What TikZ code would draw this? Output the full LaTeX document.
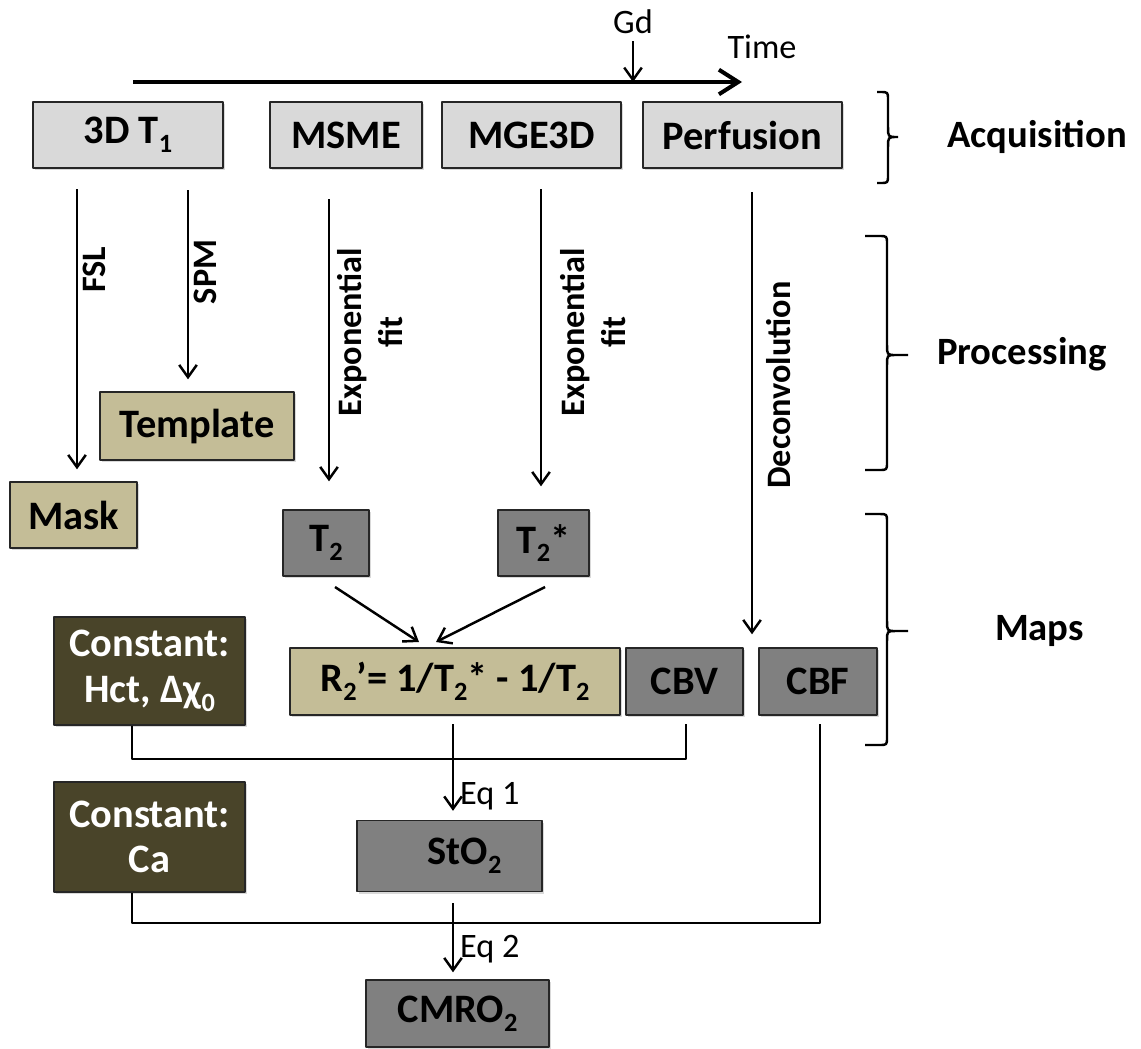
\documentclass[tikz,border=0pt]{standalone}
\usepackage{fontspec}
\setmainfont{Carlito}
\usetikzlibrary{arrows.meta,shadows}
\definecolor{acqgray}{HTML}{D9D9D9}
\definecolor{boxtan}{HTML}{C4BD97}
\definecolor{mapgray}{HTML}{808080}
\definecolor{darkolive}{HTML}{494429}
\newcommand{\lowsub}[1]{\raisebox{-0.45ex}{\fontsize{15}{15}\selectfont #1}}
% brace: hook x, spine x, tip x, top y, tip y, bottom y
\newcommand{\sidebrace}[6]{%
	\draw (#1,#4)--(#2-8,#4) .. controls (#2,#4) .. (#2,#4+8)--(#2,#5-10) .. controls (#2,#5) .. (#2+9,#5)--(#3,#5)
		(#2+9,#5) .. controls (#2,#5) .. (#2,#5+10)--(#2,#6-8) .. controls (#2,#6) .. (#2-8,#6)--(#1,#6);}
\begin{document}
\begin{tikzpicture}[x=0.02cm, y=-0.02cm, >={Straight Barb[length=7pt,width=10pt]},
	line width=1.4pt, line join=round,
	box/.style={draw=black!85, line width=0.8pt, inner sep=0pt, font=\fontsize{23}{26}\selectfont\bfseries,
		drop shadow={shadow xshift=1.2pt, shadow yshift=-1.2pt, opacity=0.3}},
	acqbox/.style={box, fill=acqgray, minimum height=1.32cm},
	tanbox/.style={box, fill=boxtan},
	mapbox/.style={box, fill=mapgray},
	constbox/.style={box, fill=darkolive, text=white, align=center},
	lbl/.style={font=\fontsize{19.5}{23}\selectfont\bfseries, rotate=90, align=center},
	small/.style={font=\fontsize{19.5}{23}\selectfont},
	side/.style={font=\fontsize{22}{26}\selectfont\bfseries, anchor=west}]
	\useasboundingbox (0,0) rectangle (1141,1048);
	
	% --- Time axis ---
	\coordinate (tstart) at (133,82);
	\coordinate (tend) at (742,82);
	\draw[line width=2.3pt, -{Straight Barb[length=11pt,width=14pt]}] (tstart)--(tend);
	\node[small] (gd) at (633,22) {Gd};
	\draw[->] (gd.south)--(gd.south |- tstart);
	\node[small] (time) at (762,47) {Time};
	
	% --- Acquisition ---
	\node[acqbox, minimum width=3.8cm] (t1) at (128,135) {3D T\lowsub{1}};
	\node[acqbox, minimum width=3.04cm] (msme) at (346,135) {MSME};
	\node[acqbox, minimum width=3.58cm] (mge) at (531.5,135) {MGE3D};
	\node[acqbox, minimum width=3.98cm] (perf) at (742.5,135) {Perfusion};
	
	% --- Processing ---
	\node[tanbox, minimum width=3.88cm, minimum height=1.36cm] (template) at (197,426) {Template};
	\node[tanbox, minimum width=2.54cm, minimum height=1.32cm] (mask) at (73.5,515) {Mask};
	\node[mapbox, minimum width=1.72cm, minimum height=1.32cm] (ttwo) at (326,543) {T\lowsub{2}};
	\node[mapbox, minimum width=1.82cm, minimum height=1.32cm] (ttwostar) at (543.5,543) {T\lowsub{2}*};
	
	\coordinate (fsl) at (77,189);
	\coordinate (spm) at (188,190);
	\coordinate (expa) at (329,199);
	\coordinate (expb) at (541,189);
	\coordinate (deconv) at (752,192);
	\draw[->, shorten >=0.24cm] (fsl)--(fsl |- mask.north);
	\draw[->, shorten >=0.24cm] (spm)--(spm |- template.north);
	\draw[->, shorten >=0.56cm] (expa)--(expa |- ttwo.north);
	\draw[->, shorten >=0.46cm] (expb)--(expb |- ttwostar.north);
	\node[lbl] (fsllbl) at (94,270) {FSL};
	\node[lbl] (spmlbl) at (205,272) {SPM};
	\node[lbl] (expalbl) at (370,332) {Exponential\\fit};
	\node[lbl] (expblbl) at (593,332) {Exponential\\fit};
	\node[lbl] (deconvlbl) at (779,385) {Deconvolution};
	
	% --- Maps ---
	\node[tanbox, minimum width=6.6cm, minimum height=1.34cm] (rtwo) at (455,681.5)
		{R\lowsub{2}’= 1/T\lowsub{2}* - 1/T\lowsub{2}};
	\node[mapbox, minimum width=2.34cm, minimum height=1.34cm] (cbv) at (684.5,681.5) {CBV};
	\node[mapbox, minimum width=2.36cm, minimum height=1.34cm] (cbf) at (818,681.5) {CBF};
	\node[constbox, minimum width=3.82cm, minimum height=2.16cm] (hct) at (149.5,671)
		{Constant:\\Hct, Δχ\lowsub{0}};
	\node[constbox, minimum width=3.82cm, minimum height=2.2cm] (ca) at (149.5,837) {Constant:\\Ca};
	\node[mapbox, minimum width=3.7cm, minimum height=1.42cm] (sto) at (449.5,856) {\hspace*{0.6cm}StO\lowsub{2}};
	\node[mapbox, minimum width=3.66cm, minimum height=1.34cm] (cmro) at (457.5,1013.5) {CMRO\lowsub{2}};
	
	\draw[->] (335,587) coordinate (ta)--(419,642) coordinate (tb);
	\draw[->] (545,587) coordinate (tc)--(436,642) coordinate (td);
	\draw[->, shorten >=0.26cm] (deconv)--(deconv |- cbf.north);
	
	% --- Equations ---
	\coordinate (hctdown) at (132,759);
	\coordinate (cbvup) at (686,724);
	\coordinate (cbfup) at (820,724);
	\coordinate (cadown) at (132,923);
	\coordinate (eqa) at (453,724);
	\coordinate (eqb) at (453,903);
	\draw (hctdown |- hct.south)--(hctdown)--(hctdown -| cbvup)--(cbvup);
	\draw (cadown |- ca.south)--(cadown)--(cadown -| cbfup)--(cbfup);
	\draw[->, shorten >=0.18cm] (eqa)--(eqa |- sto.north) node[small, pos=0.75, anchor=west] (eqalbl) {Eq 1};
	\draw[->, shorten >=0.14cm] (eqb)--(eqb |- cmro.north) node[small, pos=0.6, anchor=west] (eqblbl) {Eq 2};
	
	% --- Braces ---
	\sidebrace{877}{888}{898}{92}{137}{183}
	\sidebrace{865}{887}{908}{236}{355}{470}
	\sidebrace{865}{887}{908}{514}{631}{745}
	\node[side] (acq) at (940,137) {Acquisition};
	\node[side] (proc) at (930,354) {Processing};
	\node[side] (maps) at (988,631) {Maps};
\end{tikzpicture}
\end{document}
